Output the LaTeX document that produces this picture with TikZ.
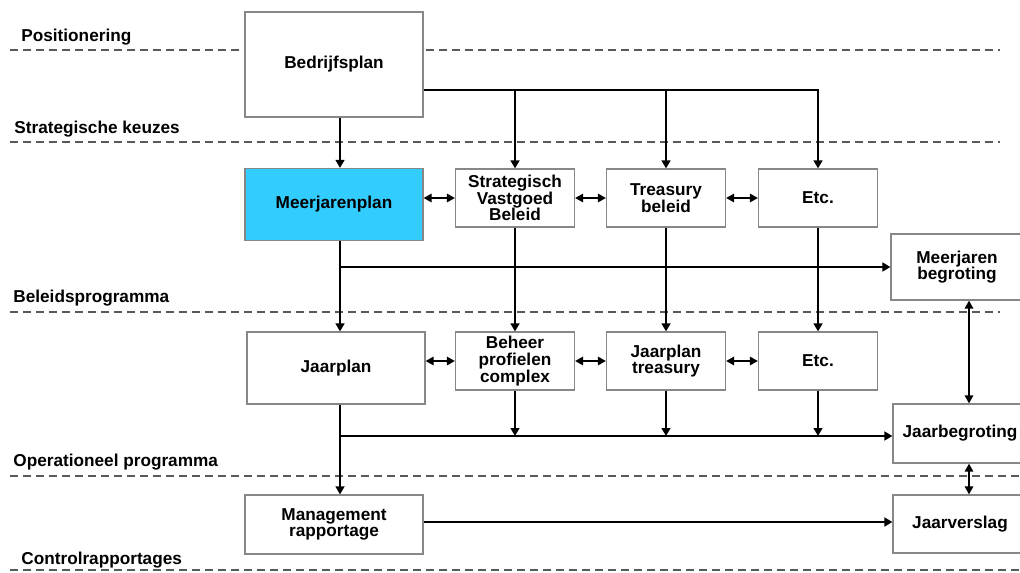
\documentclass[tikz,border=0pt]{standalone}
\usepackage{fontspec}
\setmainfont{Liberation Sans}
\usetikzlibrary{arrows.meta}

\definecolor{planblue}{RGB}{51,204,255}
\definecolor{boxgray}{RGB}{135,135,135}

\tikzset{
  box/.style={draw=boxgray, line width=0.6pt, fill=white, align=center, inner sep=0pt,
    font=\bfseries\fontsize{8.6}{8.3}\selectfont},
  widebox/.style={box, minimum width=89pt},
  smallbox/.style={box, minimum width=59.5pt, minimum height=29pt},
  sidebox/.style={box, minimum width=67pt},
  flow/.style={line width=1.1pt, -{Triangle[length=4pt,width=4.4pt]}},
  both/.style={line width=0.9pt, {Triangle[length=4pt,width=4.2pt]}-{Triangle[length=4pt,width=4.2pt]}},
  level/.style={dash pattern=on 4pt off 2.5pt, line width=0.75pt, draw=black!65},
  levellabel/.style={anchor=west, inner sep=0pt, font=\bfseries\fontsize{8.6}{10}\selectfont}
}

\begin{document}
\begin{tikzpicture}[x=0.5pt,y=-0.5pt]
\useasboundingbox (0,0) rectangle (1020,572);
\clip (0,0) rectangle (1020,572);

% levels
\draw[level] (10,50) -- (1000,50);
\draw[level] (10,142) -- (1000,142);
\draw[level] (10,312) -- (1000,312);
\draw[level] (10,476) -- (1020,476);
\draw[level] (10,570) -- (1020,570);

\node[levellabel] (lpos) at (21,37) {Positionering};
\node[levellabel] (lstr) at (14,129) {Strategische keuzes};
\node[levellabel] (lbel) at (13,298) {Beleidsprogramma};
\node[levellabel] (lop) at (13,462) {Operationeel programma};
\node[levellabel] (lcon) at (21,560) {Controlrapportages};

% boxes
\node[widebox, minimum height=52.5pt] (bedrijf) at (334,64.5) {Bedrijfsplan};
\node[widebox, minimum height=36pt, fill=planblue] (mjplan) at (334,204.5) {Meerjarenplan};
\node[smallbox] (svb) at (515,198) {Strategisch\\Vastgoed\\Beleid};
\node[smallbox] (treas) at (666,198) {Treasury\\beleid};
\node[smallbox] (etca) at (818,198) {Etc.};
\node[sidebox, minimum width=66pt, minimum height=33pt] (mjbeg) at (957,267) {Meerjaren\\begroting};

\node[widebox, minimum height=36pt] (jaarplan) at (336,368) {Jaarplan};
\node[smallbox] (beheer) at (515,361) {Beheer\\profielen\\complex};
\node[smallbox] (jptreas) at (666,361) {Jaarplan\\treasury};
\node[smallbox] (etcb) at (818,361) {Etc.};
\node[sidebox, minimum height=29.5pt] (jbeg) at (960,433.5) {Jaarbegroting};

\node[widebox, minimum height=29.5pt] (mgmt) at (334,524.5) {Management\\rapportage};
\node[sidebox, minimum height=29pt] (jversl) at (960,524) {Jaarverslag};

% connectors
\coordinate (spine) at (340,0);
\coordinate (rspine) at (969,0);
\coordinate (top) at (0,90);
\coordinate (mid) at (0,267);
\coordinate (low) at (0,436);
\coordinate (rep) at (0,522);

\draw[flow] (spine |- bedrijf.south) -- (spine |- mjplan.north);
\draw[flow] (bedrijf.east |- top) -| (etca.north);
\draw[flow] (svb.north |- top) -- (svb.north);
\draw[flow] (treas.north |- top) -- (treas.north);

\draw[both] (mjplan.east |- svb.west) -- (svb.west);
\draw[both] (svb.east) -- (treas.west);
\draw[both] (treas.east) -- (etca.west);

\draw[flow] (spine |- mjplan.south) -- (spine |- jaarplan.north);
\draw[flow] (spine |- mid) -- (mjbeg.west |- mid);
\draw[flow] (svb.south) -- (beheer.north);
\draw[flow] (treas.south) -- (jptreas.north);
\draw[flow] (etca.south) -- (etcb.north);

\draw[both] (jaarplan.east |- beheer.west) -- (beheer.west);
\draw[both] (beheer.east) -- (jptreas.west);
\draw[both] (jptreas.east) -- (etcb.west);

\draw[flow] (spine |- jaarplan.south) -- (spine |- mgmt.north);
\draw[flow] (spine |- low) -- (jbeg.west |- low);
\draw[flow] (beheer.south) -- (beheer.south |- low);
\draw[flow] (jptreas.south) -- (jptreas.south |- low);
\draw[flow] (etcb.south) -- (etcb.south |- low);

\draw[both] (rspine |- mjbeg.south) -- (rspine |- jbeg.north);
\draw[both] (rspine |- jbeg.south) -- (rspine |- jversl.north);
\draw[flow] (mgmt.east |- rep) -- (jversl.west |- rep);

\end{tikzpicture}
\end{document}
